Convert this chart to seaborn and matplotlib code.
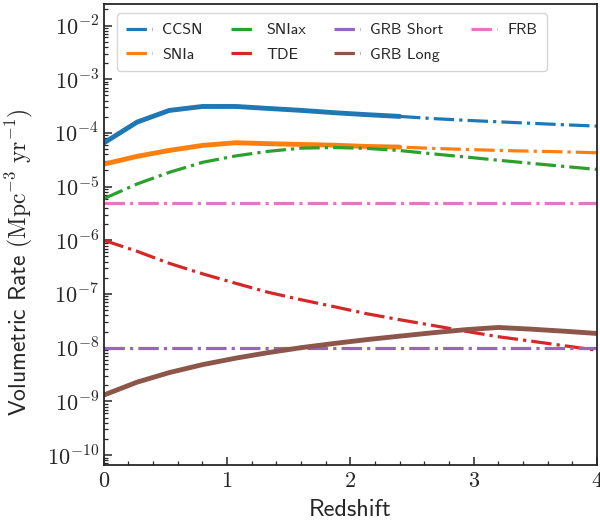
import numpy as np
import pandas as pd
import matplotlib
matplotlib.use("Agg")
import matplotlib.pyplot as plt
import matplotlib.ticker as mticker
import seaborn as sns

# Redshift grid and volumetric rates (Mpc^-3 yr^-1)
z = [0.0, 0.27, 0.53, 0.8, 1.07, 1.33, 1.6, 1.87, 2.13, 2.4,
     2.67, 2.93, 3.2, 3.47, 3.73, 4.0]
ccsn = [6.5e-5, 1.59e-4, 2.62e-4, 3.11e-4, 3.11e-4, 2.86e-4, 2.63e-4, 2.38e-4,
        2.19e-4, 2.03e-4, 1.85e-4, 1.72e-4, 1.61e-4, 1.51e-4, 1.42e-4, 1.34e-4]
snia = [2.62e-5, 3.66e-5, 4.72e-5, 5.85e-5, 6.56e-5, 6.3e-5, 6.1e-5, 5.9e-5,
        5.6e-5, 5.44e-5, 5.15e-5, 4.93e-5, 4.72e-5, 4.57e-5, 4.44e-5, 4.27e-5]
sniax = [5.96e-6, 1.12e-5, 1.84e-5, 2.83e-5, 3.73e-5, 4.53e-5, 5.2e-5, 5.35e-5,
         5.15e-5, 4.7e-5, 4.07e-5, 3.57e-5, 3.1e-5, 2.71e-5, 2.38e-5, 2.09e-5]
tde = [1e-6, 6.24e-7, 3.73e-7, 2.38e-7, 1.58e-7, 1.08e-7, 7.82e-8, 5.79e-8,
       4.3e-8, 3.32e-8, 2.59e-8, 2.03e-8, 1.6e-8, 1.32e-8, 1.09e-8, 8.97e-9]
grb_short = [1e-8] * 16
grb_long = [1.31e-9, 2.28e-9, 3.43e-9, 4.83e-9, 6.38e-9, 8.07e-9, 1.0e-8, 1.2e-8,
            1.41e-8, 1.64e-8, 1.9e-8, 2.16e-8, 2.38e-8, 2.21e-8, 2.03e-8, 1.84e-8]
frb = [5e-6] * 16

sources = ['CCSN', 'SNIa', 'SNIax', 'TDE', 'GRB Short', 'GRB Long', 'FRB']
rates = [ccsn, snia, sniax, tde, grb_short, grb_long, frb]
# upper redshift of the solid (measured) part; others are extrapolation only
z_solid = {'CCSN': 2.4, 'SNIa': 2.4, 'GRB Long': 4.0}

colors = dict(zip(sources, sns.color_palette('tab10', len(sources))))

df = pd.concat([pd.DataFrame({'z': z, 'rate': r, 'source': s})
                for s, r in zip(sources, rates)], ignore_index=True)

sns.set_style('ticks')
plt.rcParams['font.family'] = ['cmss10', 'DejaVu Sans']
plt.rcParams['mathtext.fontset'] = 'cm'
plt.rcParams['axes.linewidth'] = 1.3

fig = plt.figure(figsize=(6.0, 5.22), dpi=100)
ax = fig.add_axes([0.173, 0.109, 0.822, 0.883])

for s in sources:
    d = df[df['source'] == s]
    sns.lineplot(data=d, x='z', y='rate', color=colors[s], linestyle='-.',
                 linewidth=2.3, label=s, ax=ax)
    if s in z_solid:
        ds = d[d['z'] <= z_solid[s] + 1e-9]
        sns.lineplot(data=ds, x='z', y='rate', color=colors[s], linestyle='-',
                     linewidth=3.5, legend=False, ax=ax)

ax.set_yscale('log')
ax.set_xlim(0, 4)
ax.set_ylim(6.5e-11, 2.5e-2)

ax.xaxis.set_major_locator(mticker.MultipleLocator(1))
ax.xaxis.set_minor_locator(mticker.MultipleLocator(0.2))
ax.xaxis.set_major_formatter(mticker.FuncFormatter(lambda v, p: r'$%d$' % round(v)))
ax.yaxis.set_major_locator(mticker.LogLocator(base=10, numticks=20))
ax.yaxis.set_minor_locator(mticker.LogLocator(base=10, subs=np.arange(2, 10), numticks=20))
ax.yaxis.set_minor_formatter(mticker.NullFormatter())
ax.yaxis.set_major_formatter(
    mticker.FuncFormatter(lambda v, p: r'$10^{%d}$' % round(np.log10(v))))

ax.tick_params(which='both', direction='in', top=False, right=False, labelsize=16)
ax.tick_params(axis='x', pad=5)
ax.tick_params(which='major', length=6, width=1.1)
ax.tick_params(which='minor', length=3, width=0.9)

ax.set_xlabel('Redshift', fontsize=17.5, labelpad=6)
ax.set_ylabel(r'Volumetric Rate $(\mathrm{Mpc^{-3}\ yr^{-1}})$', fontsize=17)
ax.yaxis.set_label_coords(-0.14, 0.44)

ax.legend(ncol=4, loc='upper left', bbox_to_anchor=(0.026, 0.98), borderaxespad=0,
          fontsize=11.5, frameon=True, columnspacing=1.75, handlelength=1.6,
          handletextpad=0.65, labelspacing=0.65, borderpad=0.6)

fig.savefig('out.png', dpi=100)
